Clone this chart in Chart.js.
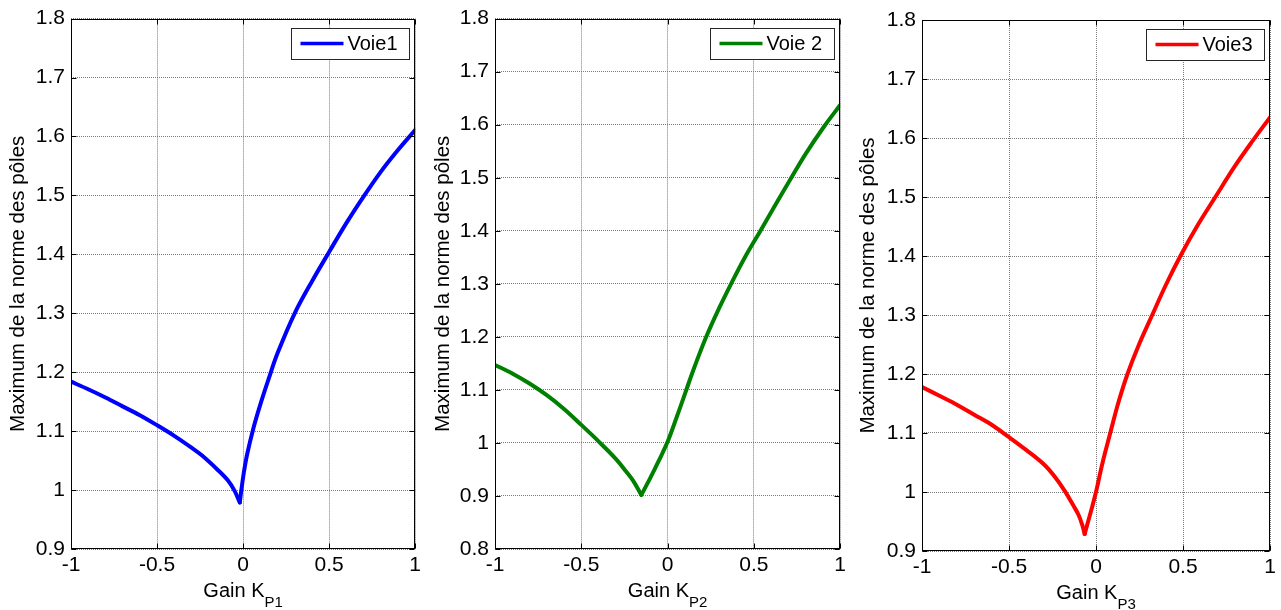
<!DOCTYPE html>
<html><head><meta charset="utf-8">
<script src="https://cdn.jsdelivr.net/npm/chart.js@4/dist/chart.umd.min.js"></script>
<style>
html,body{margin:0;padding:0;background:#fff;width:1281px;height:610px;overflow:hidden}
.p{position:absolute;top:0;height:610px}
canvas{display:block}
</style></head><body>
<div class="p" style="left:0px;width:425px"><canvas id="c1" width="425" height="610"></canvas></div>
<div class="p" style="left:425px;width:425px"><canvas id="c2" width="425" height="610"></canvas></div>
<div class="p" style="left:850px;width:431px"><canvas id="c3" width="431" height="610"></canvas></div>
<script>
// ---- data ----
const xTickValues = [-1, -0.5, 0, 0.5, 1];
const xTickLabels = ['-1', '-0.5', '0', '0.5', '1'];
const yTicks13 = [0.9, 1.0, 1.1, 1.2, 1.3, 1.4, 1.5, 1.6, 1.7, 1.8];
const yLabels13 = ['0.9', '1', '1.1', '1.2', '1.3', '1.4', '1.5', '1.6', '1.7', '1.8'];
const yTicks2 = [0.8, 0.9, 1.0, 1.1, 1.2, 1.3, 1.4, 1.5, 1.6, 1.7, 1.8];
const yLabels2 = ['0.8', '0.9', '1', '1.1', '1.2', '1.3', '1.4', '1.5', '1.6', '1.7', '1.8'];

const kp1 = [-1, -0.9, -0.8, -0.7, -0.6, -0.5, -0.4, -0.3, -0.24, -0.15, -0.09, -0.05, -0.019, -0.01, 0.004, 0.023, 0.06, 0.1, 0.15, 0.2, 0.3, 0.4, 0.5, 0.6, 0.7, 0.8, 0.9, 1.0];
const voie1 = [1.184, 1.171, 1.157, 1.142, 1.127, 1.11, 1.092, 1.072, 1.059, 1.035, 1.017, 0.999, 0.979, 1.0, 1.029, 1.06, 1.105, 1.145, 1.19, 1.232, 1.3, 1.354, 1.404, 1.453, 1.498, 1.54, 1.577, 1.611];

const kp2 = [-1, -0.9, -0.8, -0.7, -0.6, -0.5, -0.4, -0.3, -0.24, -0.2, -0.152, -0.1, -0.05, 0, 0.05, 0.1, 0.15, 0.224, 0.3, 0.368, 0.45, 0.54, 0.62, 0.71, 0.8, 0.91, 1];
const voie2 = [1.147, 1.131, 1.112, 1.09, 1.064, 1.034, 1.003, 0.97, 0.946, 0.929, 0.902, 0.934, 0.967, 1.002, 1.046, 1.092, 1.138, 1.2, 1.255, 1.3, 1.351, 1.401, 1.446, 1.496, 1.545, 1.598, 1.637];

const kp3 = [-1, -0.9, -0.8, -0.7, -0.6, -0.5, -0.4, -0.3, -0.24, -0.18, -0.13, -0.1, -0.08, -0.065, -0.021, 0, 0.038, 0.082, 0.127, 0.181, 0.247, 0.323, 0.4, 0.485, 0.58, 0.686, 0.8, 0.9, 1];
const voie3 = [1.178, 1.163, 1.148, 1.131, 1.114, 1.093, 1.071, 1.047, 1.027, 1.002, 0.977, 0.961, 0.945, 0.929, 0.976, 1.0, 1.05, 1.1, 1.15, 1.2, 1.25, 1.3, 1.35, 1.4, 1.45, 1.5, 1.553, 1.595, 1.635];

const seriesNames = ['Voie1', 'Voie 2', 'Voie3'];
const yTitle = 'Maximum de la norme des pôles';
const xTitleMain = 'Gain K';
const xTitleSubs = ['P1', 'P2', 'P3'];

// ---- rendering ----
const FONT = '"Liberation Sans", Arial, sans-serif';

const matlabAxes = {
  id: 'matlabAxes',
  afterDraw(chart, args, o) {
    const {ctx, chartArea: a, scales: {x, y}} = chart;
    ctx.save();
    const L = Math.round(a.left) + 0.5, R = Math.round(a.right) - 0.5;
    const T = Math.round(a.top) + 0.5, B = Math.round(a.bottom) - 0.5;
    ctx.strokeStyle = '#000';
    ctx.lineWidth = 1;
    ctx.setLineDash([]);
    ctx.strokeRect(L, T, R - L, B - T);
    const tl = 5;
    ctx.beginPath();
    x.ticks.forEach(t => {
      const px = Math.round(x.getPixelForValue(t.value)) + 0.5;
      ctx.moveTo(px, B); ctx.lineTo(px, B - tl);
      ctx.moveTo(px, T); ctx.lineTo(px, T + tl);
    });
    y.ticks.forEach(t => {
      const py = Math.round(y.getPixelForValue(t.value)) + 0.5;
      ctx.moveTo(L, py); ctx.lineTo(L + tl, py);
      ctx.moveTo(R, py); ctx.lineTo(R - tl, py);
    });
    ctx.stroke();
    // x title with subscript
    ctx.fillStyle = '#000';
    ctx.textBaseline = 'alphabetic';
    ctx.textAlign = 'left';
    const f1 = '20px ' + FONT, f2 = '15px ' + FONT;
    ctx.font = f1; const w1 = ctx.measureText(o.main).width;
    ctx.font = f2; const w2 = ctx.measureText(o.sub).width;
    const sx = (a.left + a.right) / 2 - (w1 + w2) / 2;
    ctx.font = f1; ctx.fillText(o.main, sx, o.titleY);
    ctx.font = f2; ctx.fillText(o.sub, sx + w1, o.titleY + 10);
    // legend
    const ds = chart.data.datasets[0];
    ctx.font = f1;
    const tw = ctx.measureText(ds.label).width;
    const bw = Math.round(10 + 43 + 5 + tw + 10), bh = 31;
    const bx = Math.round(a.right - 6 - bw) + 0.5, by = Math.round(a.top + 9) + 0.5;
    ctx.fillStyle = '#fff';
    ctx.fillRect(bx, by, bw, bh);
    ctx.strokeStyle = '#262626';
    ctx.lineWidth = 1;
    ctx.strokeRect(bx, by, bw, bh);
    ctx.beginPath();
    ctx.strokeStyle = ds.borderColor;
    ctx.lineWidth = 3.5;
    ctx.moveTo(bx + 9, by + 15);
    ctx.lineTo(bx + 52, by + 15);
    ctx.stroke();
    ctx.fillStyle = '#000';
    ctx.textBaseline = 'middle';
    ctx.fillText(ds.label, bx + 56, by + 16);
    ctx.restore();
  }
};

function makeChart(id, xs, ys, name, color, yTicks, yLabels, yMin, layout, sub) {
  const pts = xs.map((v, i) => ({x: v, y: ys[i]}));
  // split the curve at its minimum so the V tip stays sharp
  let m = 0;
  ys.forEach((v, i) => { if (v < ys[m]) m = i; });
  const style = {
    label: name, borderColor: color, backgroundColor: color,
    borderWidth: 4, pointRadius: 0, tension: 0.35, fill: false,
    borderJoinStyle: 'round', borderCapStyle: 'round'
  };
  return new Chart(document.getElementById(id), {
    type: 'line',
    data: {datasets: [
      Object.assign({data: pts.slice(0, m + 1)}, style),
      Object.assign({data: pts.slice(m)}, style)
    ]},
    options: {
      responsive: false, animation: false, devicePixelRatio: 1,
      layout: {padding: {left: 0, right: layout.right, top: layout.top, bottom: 0}},
      plugins: {
        legend: {display: false}, tooltip: {enabled: false},
        matlabAxes: {main: xTitleMain, sub: sub, titleY: layout.titleY}
      },
      scales: {
        x: {
          type: 'linear', min: -1, max: 1,
          afterBuildTicks: s => { s.ticks = xTickValues.map(v => ({value: v})); },
          afterFit: s => { s.height = layout.xh; },
          ticks: {
            color: '#000', padding: 4, maxRotation: 0, autoSkip: false,
            font: {family: FONT, size: 21},
            callback: (v, i) => xTickLabels[i]
          },
          grid: {color: '#7a7a7a', lineWidth: 1, drawTicks: false},
          border: {display: false, dash: [1, 1]}
        },
        y: {
          type: 'linear', min: yMin, max: 1.8,
          afterBuildTicks: s => { s.ticks = yTicks.map(v => ({value: v})); },
          afterFit: s => { s.width = layout.yw; },
          ticks: {
            color: '#000', padding: 6, autoSkip: false,
            font: {family: FONT, size: 21},
            callback: (v, i) => yLabels[i]
          },
          grid: {color: '#7a7a7a', lineWidth: 1, drawTicks: false},
          border: {display: false, dash: [1, 1]},
          title: {display: true, text: yTitle, color: '#000',
                  font: {family: FONT, size: 20.5}, padding: {top: 6, bottom: 0}}
        }
      }
    },
    plugins: [matlabAxes]
  });
}

makeChart('c1', kp1, voie1, seriesNames[0], '#0000ff', yTicks13, yLabels13, 0.9,
  {yw: 71, right: 6, top: 18, xh: 61, titleY: 597}, xTitleSubs[0]);
makeChart('c2', kp2, voie2, seriesNames[1], '#008000', yTicks2, yLabels2, 0.8,
  {yw: 70, right: 7, top: 18, xh: 61, titleY: 597}, xTitleSubs[1]);
makeChart('c3', kp3, voie3, seriesNames[2], '#ff0000', yTicks13, yLabels13, 0.9,
  {yw: 72, right: 11, top: 20, xh: 59, titleY: 599}, xTitleSubs[2]);
</script>
</body></html>
